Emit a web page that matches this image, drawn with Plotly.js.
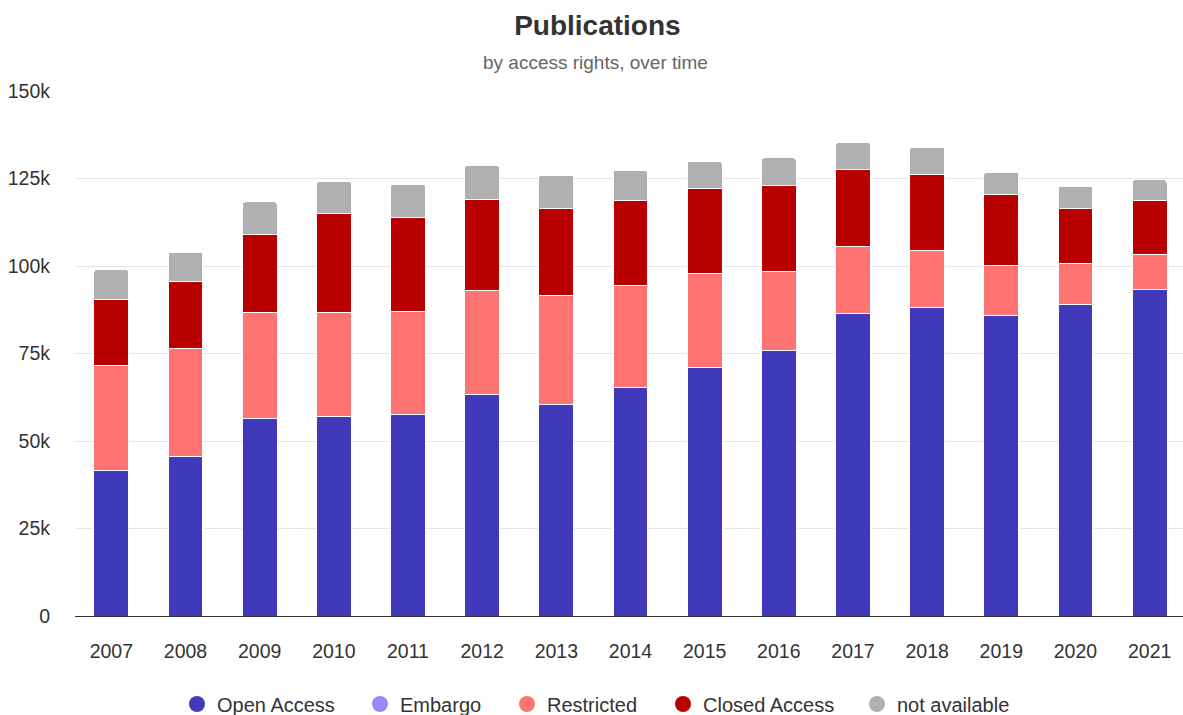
<!DOCTYPE html>
<html>
<head>
<meta charset="utf-8">
<script src="https://cdn.plot.ly/plotly-3.0.1.min.js"></script>
<style>
  html, body { margin: 0; padding: 0; background: #fff; }
  #chart { width: 1183px; height: 715px; }
</style>
</head>
<body>
<div id="chart"></div>
<script>
const years = ["2007","2008","2009","2010","2011","2012","2013","2014","2015","2016","2017","2018","2019","2020","2021"];
const openAccess   = [41500, 45500, 56300, 57100, 57600, 63400, 60300, 65200, 71100, 76000, 86400, 88100, 85800, 88900, 93400];
const embargo      = [0, 0, 0, 0, 0, 0, 0, 0, 0, 0, 0, 0, 0, 0, 0];
const restricted   = [30000, 30900, 30500, 29700, 29500, 29700, 31400, 29200, 26900, 22400, 19100, 16200, 14400, 11700, 9800];
const closedAccess = [18800, 19200, 22300, 28100, 26900, 25800, 24600, 24200, 24100, 24600, 22000, 21800, 20100, 15700, 15400];
const notAvailable = [8700, 8300, 9200, 9200, 9200, 9800, 9600, 8700, 7900, 7900, 7800, 7900, 6500, 6500, 6000];

const seriesNames  = ["Open Access", "Embargo", "Restricted", "Closed Access", "not available"];
const seriesColors = ["rgba(50,42,180,0.93)", "#9b87f5", "#ff7373", "#b90000", "#b0b0b0"];
const seriesValues = [openAccess, embargo, restricted, closedAccess, notAvailable];

const yTickVals  = [0, 25000, 50000, 75000, 100000, 125000, 150000];
const yTickText  = ["0", "25k", "50k", "75k", "100k", "125k", "150k"];

const FONT = "Liberation Sans, Arial, sans-serif";
const W = 1183, H = 715;

// legend entry positions (pixels, marker centre) — layout only
const legendPx = [197, 380, 527, 683, 877];
const legendY = 704;

const traces = [];
seriesNames.forEach((name, i) => {
  traces.push({
    type: "bar",
    name: name,
    x: years,
    y: seriesValues[i],
    marker: { color: seriesColors[i], line: { color: "#ffffff", width: 1 } },
    showlegend: false,
    hovertemplate: name + ": %{y}<extra></extra>"
  });
});
const legendIds = ["legend", "legend2", "legend3", "legend4", "legend5"];
seriesNames.forEach((name, i) => {
  traces.push({
    type: "scatter",
    mode: "markers",
    name: name,
    x: [null],
    y: [null],
    legend: legendIds[i],
    marker: { color: seriesColors[i], size: 18, symbol: "circle" },
    showlegend: true,
    hoverinfo: "skip"
  });
});

const layout = {
  width: W,
  height: H,
  margin: { l: 75, r: 0, t: 91, b: 99, autoexpand: false },
  paper_bgcolor: "#ffffff",
  plot_bgcolor: "#ffffff",
  font: { family: FONT, color: "#333333", size: 19 },
  barmode: "stack",
  bargap: 0.53,
  barcornerradius: 3,
  title: {
    text: "<b>Publications</b>",
    font: { family: FONT, size: 28, color: "#333333" },
    x: 0.505, xanchor: "center",
    y: 1 - 25 / H, yanchor: "middle"
  },
  annotations: [{
    text: "by access rights, over time",
    xref: "paper", yref: "paper",
    x: 0.47, y: 1, xanchor: "center", yanchor: "middle",
    yshift: 91 - 62,
    showarrow: false,
    font: { family: FONT, size: 19, color: "#666666" }
  }],
  xaxis: {
    type: "category",
    range: [-0.49, 14.45],
    showgrid: false,
    showline: true,
    linecolor: "#333333",
    linewidth: 1,
    ticks: "",
    ticklabelstandoff: 18,
    tickfont: { family: FONT, size: 19.5, color: "#333333" },
    fixedrange: true
  },
  yaxis: {
    range: [0, 150000],
    tickvals: yTickVals,
    ticktext: yTickText,
    showgrid: true,
    gridcolor: "#e6e6e6",
    gridwidth: 1,
    zeroline: false,
    showline: false,
    ticks: "",
    ticklabelstandoff: 24,
    tickfont: { family: FONT, size: 19.5, color: "#333333" },
    fixedrange: true
  },
  showlegend: true
};

legendIds.forEach((id, i) => {
  layout[id] = {
    xref: "container", yref: "container",
    x: (legendPx[i] - 20) / W, xanchor: "left",
    y: 1 - legendY / H, yanchor: "middle",
    orientation: "h",
    bgcolor: "rgba(0,0,0,0)",
    font: { family: FONT, size: 20, color: "#333333" },
    itemwidth: 30
  };
});

Plotly.newPlot("chart", traces, layout, { displayModeBar: false, staticPlot: true });
</script>
</body>
</html>
